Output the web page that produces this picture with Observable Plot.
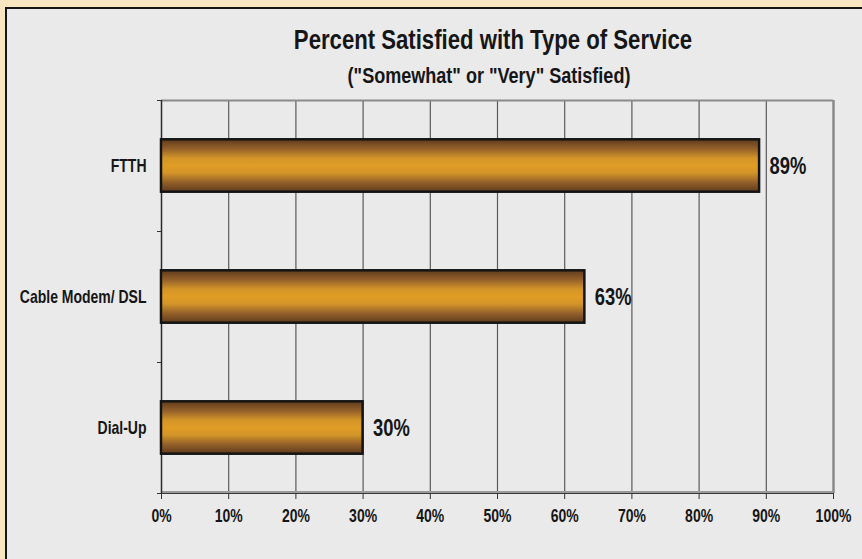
<!DOCTYPE html>
<html>
<head>
<meta charset="utf-8">
<script src="https://cdn.jsdelivr.net/npm/d3@7"></script>
<script src="https://cdn.jsdelivr.net/npm/@observablehq/plot@0.6"></script>
<style>
  html, body { margin: 0; padding: 0; }
  body { width: 862px; height: 559px; background: #f8e6c1; position: relative; overflow: hidden;
         font-family: "Liberation Sans", Arial, sans-serif; font-weight: bold; color: #161616; }
  #panel { position: absolute; left: 5px; top: 7px; width: 900px; height: 600px; background: #eaeaea;
           border-left: 2.5px solid #151515; border-top: 2.5px solid #151515; }
  #chart { position: absolute; left: 0; top: 0; }
  .ttl { position: absolute; left: 0; text-align: center; white-space: nowrap;
         transform: scaleX(0.82); transform-origin: 50% 50%; }
  #title { top: 25px; font-size: 27px; width: 986px; }
  #subtitle { top: 63px; font-size: 22px; width: 978px; }
</style>
</head>
<body>
<div id="panel"></div>
<div id="title" class="ttl">Percent Satisfied with Type of Service</div>
<div id="subtitle" class="ttl">("Somewhat" or "Very" Satisfied)</div>
<div id="chart"></div>
<script>
const categories = ["FTTH", "Cable Modem/ DSL", "Dial-Up"];
const values = [89, 63, 30];
const xTicks = [0, 10, 20, 30, 40, 50, 60, 70, 80, 90, 100];
const bandEdges = [0, 1, 2, 3];

const rows = categories.map((c, i) => ({category: c, value: values[i], pos: i}));

const font = '"Liberation Sans", Arial, sans-serif';

const chart = Plot.plot({
  width: 862,
  height: 559,
  marginLeft: 161,
  marginRight: 29,
  marginTop: 100,
  marginBottom: 66,
  style: {background: "transparent", fontFamily: font, fontWeight: "bold", fontSize: "17.5px", color: "#161616", overflow: "visible"},
  x: {domain: [0, 100], label: null},
  y: {domain: [0, 3], reverse: true, label: null},
  marks: [
    Plot.ruleX(xTicks.slice(1, -1), {stroke: "#5a5a5a", strokeWidth: 1.2}),
    Plot.ruleY([0], {stroke: "#8a8a8a", strokeWidth: 2}),
    Plot.ruleX([100], {stroke: "#8a8a8a", strokeWidth: 2.5}),
    Plot.ruleY([3], {stroke: "#9a9a9a", strokeWidth: 3, dy: -1}),
    Plot.ruleY([3], {stroke: "#3a3a3a", strokeWidth: 1}),
    Plot.ruleX([0], {stroke: "#2a2a2a", strokeWidth: 1.5}),
    Plot.axisX({ticks: xTicks, tickFormat: d => d + "%", tickSize: 6, tickPadding: 10, stroke: "#333", fill: "#161616", label: null}),
    Plot.axisY({ticks: bandEdges, tickFormat: () => "", tickSize: 4, stroke: "#333", label: null}),
    Plot.rectX(rows, {x1: 0, x2: "value", y1: d => d.pos + 0.3, y2: d => d.pos + 0.7,
      fill: "url(#barGrad)", stroke: "#141414", strokeWidth: 2.5}),
    Plot.text(rows, {x: 0, y: d => d.pos + 0.5, text: "category", textAnchor: "end", dx: -15, fontSize: 17.5, fill: "#161616"}),
    Plot.text(rows, {x: "value", y: d => d.pos + 0.5, text: d => d.value + "%", textAnchor: "start", dx: 10, dy: 1, fontSize: 23, fill: "#161616"})
  ]
});

// vertical gradient for the bars
const defs = d3.select(chart).insert("defs", ":first-child");
const grad = defs.append("linearGradient").attr("id", "barGrad")
  .attr("x1", 0).attr("y1", 0).attr("x2", 0).attr("y2", 1);
[[0, "#5f3b1c"], [0.18, "#94602a"], [0.36, "#d39528"], [0.5, "#e09d25"], [0.64, "#d39528"], [0.82, "#94602a"], [1, "#5f3b1c"]]
  .forEach(([o, c]) => grad.append("stop").attr("offset", o).attr("stop-color", c));

// narrow the glyphs horizontally (the reference uses a condensed bold face)
chart.querySelectorAll("text").forEach(t => {
  const x = +t.getAttribute("x") || 0;
  const y = +t.getAttribute("y") || 0;
  const tr = t.getAttribute("transform") || "";
  t.setAttribute("transform", `${tr} translate(${x},${y}) scale(0.8,1) translate(${-x},${-y})`);
});

document.getElementById("chart").appendChild(chart);
</script>
</body>
</html>
